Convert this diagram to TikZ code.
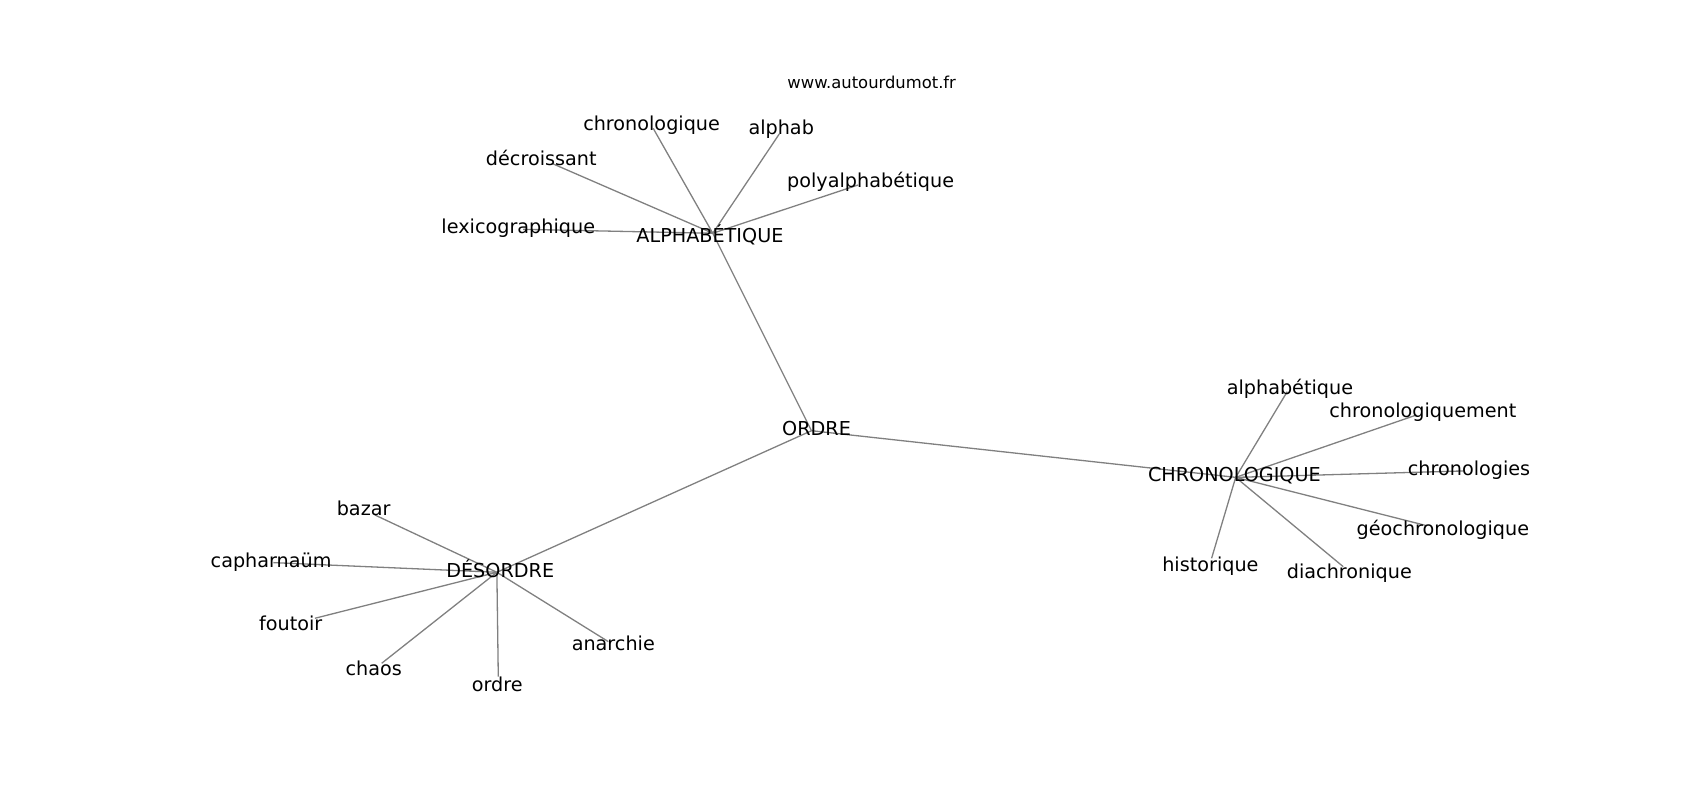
\documentclass[tikz,border=0pt]{standalone}
\usepackage{fontspec}
\setmainfont{DejaVu Sans}
\begin{document}
\begin{tikzpicture}[x=1pt,y=-1pt,
  edgeline/.style={draw=black!50,line width=1.2pt},
  hub/.style={inner sep=0pt,font=\fontsize{17.7}{20}\selectfont,text height=12.9pt,text depth=0pt},
  leaf/.style={inner sep=0pt,font=\fontsize{17.7}{20}\selectfont,text height=9.7pt,text depth=0pt,yshift=-2pt},
  urltext/.style={inner sep=0pt,font=\fontsize{15.1}{18}\selectfont,text height=9pt,text depth=0pt,yshift=-1pt}]
\useasboundingbox (0,0) rectangle (1567,737.4);
% graph points
\coordinate (ordre) at (748,397);
\coordinate (alph) at (657,215);
\coordinate (chrono) at (1139,440);
\coordinate (des) at (458,527.5);
\coordinate (a1) at (602.1,118.3);
\coordinate (a2) at (718.3,123.5);
\coordinate (a3) at (508.5,150.5);
\coordinate (a4) at (791,170.5);
\coordinate (a5) at (482.3,211.4);
\coordinate (c1) at (1186.5,361);
\coordinate (c2) at (1305.7,382.5);
\coordinate (c3) at (1348.7,434.1);
\coordinate (c4) at (1314.9,484.5);
\coordinate (c5) at (1116.8,514.6);
\coordinate (c6) at (1238.1,522.3);
\coordinate (d1) at (345.6,474.7);
\coordinate (d2) at (251.9,518.6);
\coordinate (d3) at (290.3,569.9);
\coordinate (d4) at (351.8,611.4);
\coordinate (d5) at (459.3,623.7);
\coordinate (d6) at (560.7,591.4);
% connectors
\draw[edgeline] (ordre) -- (alph);
\draw[edgeline] (ordre) -- (chrono);
\draw[edgeline] (ordre) -- (des);
\foreach \n in {a1,a2,a3,a4,a5} \draw[edgeline] (alph) -- (\n);
\foreach \n in {c1,c2,c3,c4,c5,c6} \draw[edgeline] (chrono) -- (\n);
\foreach \n in {d1,d2,d3,d4,d5,d6} \draw[edgeline] (des) -- (\n);
% labels
\node[urltext] (url) at (803.5,75.9) {www.autourdumot.fr};
\node[hub] (ordreT) at (752.7,394.8) {ORDRE};
\node[hub] (alphT) at (654.4,216.9) {ALPHABÉTIQUE};
\node[hub] (chronoT) at (1137.8,437.5) {CHRONOLOGIQUE};
\node[hub] (desT) at (461.1,525.5) {DÉSORDRE};
\node[leaf] (a1T) at (600.6,113.7) {chronologique};
\node[leaf] (a2T) at (720.1,116.8) {alphab};
\node[leaf] (a3T) at (498.9,145.3) {décroissant};
\node[leaf] (a4T) at (802.5,165.9) {polyalphabétique};
\node[leaf] (a5T) at (477.7,208) {lexicographique};
\node[leaf] (c1T) at (1189,356.4) {alphabétique};
\node[leaf] (c2T) at (1311.5,377.9) {chronologiquement};
\node[leaf] (c3T) at (1354.1,431.6) {chronologies};
\node[leaf] (c4T) at (1330,487) {géochronologique};
\node[leaf] (c5T) at (1115.7,519.8) {historique};
\node[leaf] (c6T) at (1243.8,526) {diachronique};
\node[leaf] (d1T) at (335.2,468.5) {bazar};
\node[leaf] (d2T) at (249.9,516.7) {capharnaüm};
\node[leaf] (d3T) at (268,573.9) {foutoir};
\node[leaf] (d4T) at (344.5,616) {chaos};
\node[leaf] (d5T) at (458.4,630.4) {ordre};
\node[leaf] (d6T) at (565.3,592.9) {anarchie};
\end{tikzpicture}
\end{document}
